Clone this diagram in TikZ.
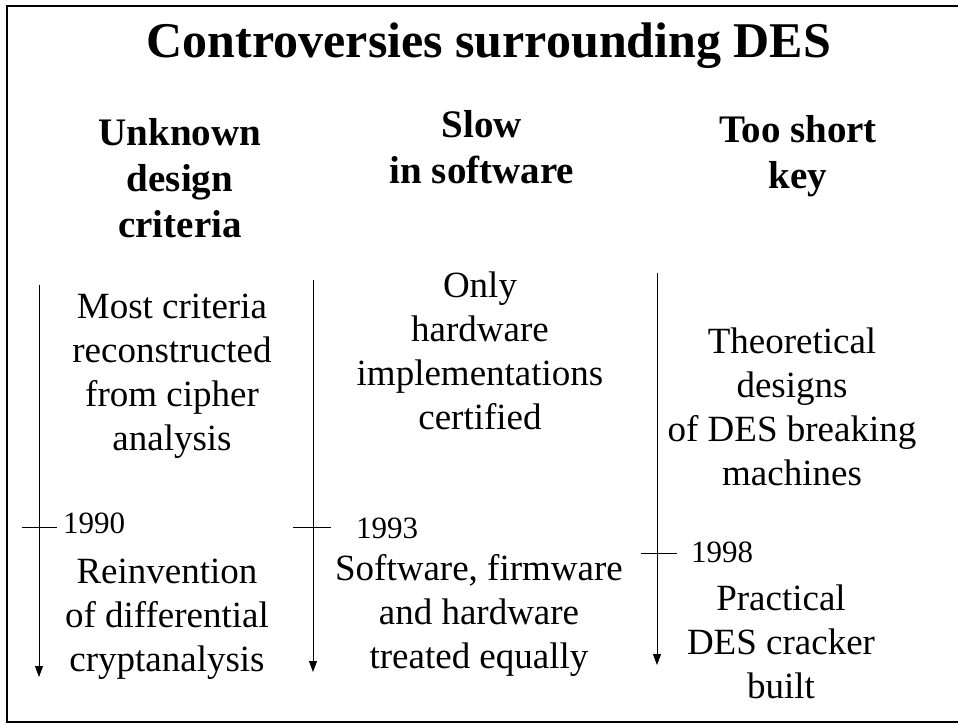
\documentclass[tikz,border=0pt]{standalone}
\usepackage{fontspec}
\setmainfont{Liberation Serif}
\usetikzlibrary{arrows.meta}
\begin{document}
\begin{tikzpicture}[x=1pt,y=-1pt,
  titletext/.style={font=\fontsize{50}{60}\selectfont\bfseries, anchor=base, inner sep=0pt},
  heading/.style={font=\fontsize{39}{46}\selectfont\bfseries, align=center, anchor=north, inner sep=0pt},
  body/.style={font=\fontsize{37}{44}\selectfont, align=center, anchor=north, inner sep=0pt},
  yearlabel/.style={font=\fontsize{31}{37}\selectfont, anchor=base west, inner sep=0pt},
  timeline/.style={line width=0.8pt, -{Triangle[width=8pt,length=11pt]}},
  yeartick/.style={line width=0.8pt}]
\useasboundingbox (0,0) rectangle (958,724);
\clip (0,0) rectangle (958,724);
% outer frame (runs off the right edge)
\draw[line width=2.5pt] (7,6) rectangle (975,722);

% title
\node[titletext] (title) at (489,57) {Controversies surrounding DES};

% column headings
\node[heading] (h1) at (180,112.8) {\strut Unknown\\ \strut design\\ \strut criteria};
\node[heading] (h2) at (482,104.8) {\strut Slow\\ \strut in software};
\node[heading] (h3) at (798,109.8) {\strut Too short\\ \strut key};

% column 1
\coordinate (a1s) at (39,285);
\coordinate (a1e) at (39,677);
\draw[timeline] (a1s) -- (a1e);
\coordinate (t1a) at (22,527);
\coordinate (t1b) at (57,527);
\draw[yeartick] (t1a) -- (t1b);
\node[yearlabel] (y1) at (63,533) {1990};
\node[body] (c1a) at (172,287.2) {\strut Most criteria\\ \strut reconstructed\\ \strut from cipher\\ \strut analysis};
\node[body] (c1b) at (167,552.2) {\strut Reinvention\\ \strut of differential\\ \strut cryptanalysis};

% column 2
\coordinate (a2s) at (313,280);
\coordinate (a2e) at (313,672);
\draw[timeline] (a2s) -- (a2e);
\coordinate (t2a) at (293,527);
\coordinate (t2b) at (331,527);
\draw[yeartick] (t2a) -- (t2b);
\node[yearlabel] (y2) at (356,538) {1993};
\node[body] (c2a) at (480,266.2) {\strut Only\\ \strut hardware\\ \strut implementations\\ \strut certified};
\node[body] (c2b) at (479,549.2) {\strut Software, firmware\\ \strut and hardware\\ \strut treated equally};

% column 3
\coordinate (a3s) at (657,273);
\coordinate (a3e) at (657,665);
\draw[timeline] (a3s) -- (a3e);
\coordinate (t3a) at (641,553);
\coordinate (t3b) at (677,553);
\draw[yeartick] (t3a) -- (t3b);
\node[yearlabel] (y3) at (691,562) {1998};
\node[body] (c3a) at (792,322.2) {\strut Theoretical\\ \strut designs\\ \strut of DES breaking\\ \strut machines};
\node[body] (c3b) at (781,579.2) {\strut Practical\\ \strut DES cracker\\ \strut built};
\end{tikzpicture}
\end{document}
